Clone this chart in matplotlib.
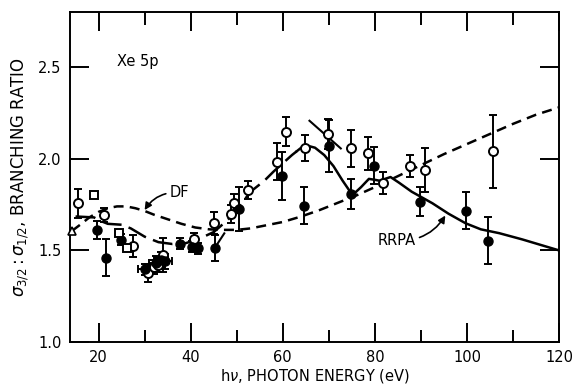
import numpy as np
import matplotlib
matplotlib.use("Agg")
import matplotlib.pyplot as plt

# open circles (energy, ratio, error)
open_x = [15.6, 21.2, 27.4, 30.8, 32.0, 33.0, 34.0, 40.7, 45.1, 48.7, 49.5, 52.5,
          58.8, 60.8, 64.8, 69.8, 74.8, 78.4, 81.8, 87.7, 90.9, 105.7]
open_y = [1.757, 1.693, 1.524, 1.376, 1.41, 1.42, 1.475, 1.564, 1.648, 1.70, 1.757, 1.83,
          1.984, 2.147, 2.06, 2.134, 2.056, 2.03, 1.87, 1.96, 1.94, 2.04]
open_err = [0.08, 0.04, 0.06, 0.05, 0.04, 0.04, 0.09, 0.03, 0.06, 0.05, 0.05, 0.05,
            0.1, 0.08, 0.07, 0.08, 0.1, 0.09, 0.06, 0.06, 0.12, 0.2]

# filled circles
fill_x = [19.6, 21.6, 24.8, 37.7, 40.3, 41.5, 45.3, 50.4, 59.8, 64.6, 70.0, 74.8,
          79.8, 89.8, 99.8, 104.5]
fill_y = [1.612, 1.461, 1.557, 1.535, 1.52, 1.512, 1.512, 1.726, 1.907, 1.744, 2.07, 1.808,
          1.962, 1.766, 1.717, 1.554]
fill_err = [0.05, 0.1, 0.03, 0.03, 0.03, 0.03, 0.07, 0.12, 0.13, 0.1, 0.14, 0.08,
            0.1, 0.08, 0.1, 0.13]

# filled circles with horizontal bars (30-35 eV cluster)
clus_x = [30.0, 32.5, 33.5, 34.5]
clus_y = [1.397, 1.43, 1.45, 1.44]
clus_xerr = [1.5, 1.5, 1.5, 1.5]
clus_yerr = [0.03, 0.04, 0.04, 0.04]

# open squares
sq_x = [19.0, 24.4, 26.1]
sq_y = [1.80, 1.595, 1.515]

# open triangle
tri_x = [14.2]
tri_y = [1.606]

# DF calculation
df_x = [14.2, 16, 18, 20, 22, 24, 26, 28, 30, 32, 35, 38, 41, 44, 47, 50, 53, 56, 60, 64,
        68, 72, 76, 80, 85, 90, 95, 100, 105, 110, 115, 120]
df_y = [1.606, 1.64, 1.68, 1.71, 1.73, 1.74, 1.74, 1.73, 1.715, 1.695, 1.67, 1.645, 1.625,
        1.615, 1.612, 1.612, 1.62, 1.635, 1.655, 1.685, 1.72, 1.76, 1.80, 1.845, 1.905,
        1.965, 2.025, 2.08, 2.135, 2.19, 2.24, 2.28]

# RRPA, low energy part (long dash)
rl_x = [15, 19, 20.5, 22, 25, 27, 30, 33, 36, 39, 42, 45, 48, 50, 53, 56, 58, 60, 62, 63]
rl_y = [1.685, 1.68, 1.66, 1.645, 1.64, 1.62, 1.575, 1.545, 1.535, 1.54, 1.565, 1.60,
        1.665, 1.72, 1.82, 1.88, 1.93, 1.975, 2.02, 2.04]

# RRPA, high energy part (solid)
rh_x = [63, 64, 65.5, 67, 69, 71, 73, 74.5, 75.5, 77, 78.7, 80, 81, 83.4, 85.2, 88,
        92.5, 96, 99.7, 103, 107, 112, 116, 120]
rh_y = [2.04, 2.06, 2.07, 2.06, 2.02, 1.96, 1.88, 1.825, 1.81, 1.845, 1.89, 1.885, 1.88,
        1.90, 1.87, 1.82, 1.757, 1.70, 1.648, 1.615, 1.594, 1.56, 1.53, 1.50]

# short extra pieces
seg1_x = [65.8, 72.6]
seg1_y = [2.207, 2.056]
seg2_x = [45.5, 47.3]
seg2_y = [1.524, 1.593]

plt.rcParams['font.family'] = ['DejaVu Sans']
fig = plt.figure(figsize=(5.74, 3.87), dpi=100)
ax = fig.add_axes([0.122, 0.116, 0.852, 0.853])

lw = 1.8
ax.plot(df_x, df_y, color='black', lw=lw, dashes=(4, 2.5))
ax.plot(rl_x, rl_y, color='black', lw=lw, dashes=(8, 3))
ax.plot(rh_x, rh_y, color='black', lw=lw)
ax.plot(seg1_x, seg1_y, color='black', lw=1.5)
ax.plot(seg2_x, seg2_y, color='black', lw=1.5)

eb = dict(ecolor='black', elinewidth=1.4, capsize=3, capthick=1.4, ls='none')
ax.errorbar(open_x, open_y, yerr=open_err, marker='o', ms=6.5, mfc='white',
            mec='black', mew=1.4, zorder=4, **eb)
ax.errorbar(fill_x, fill_y, yerr=fill_err, marker='o', ms=6.5, mfc='black',
            mec='black', zorder=4, **eb)
ax.errorbar(clus_x, clus_y, xerr=clus_xerr, yerr=clus_yerr, marker='o', ms=6.5,
            mfc='black', mec='black', zorder=4, **eb)
ax.plot(sq_x, sq_y, ls='none', marker='s', ms=5.5, mfc='white', mec='black', mew=1.4, zorder=5)
ax.plot(tri_x, tri_y, ls='none', marker='^', ms=6, mfc='white', mec='black', mew=1.2,
        zorder=5, clip_on=False)

ax.set_xlim(13.8, 120)
ax.set_ylim(1.0, 2.8)
ax.set_xticks([20, 40, 60, 80, 100, 120])
ax.set_xticks([30, 50, 70, 90, 110], minor=True)
ax.set_yticks([1.0, 1.5, 2.0, 2.5])
ax.set_yticklabels(['1.0', '1.5', '2.0', '2.5'])
ax.tick_params(which='both', direction='in', top=True, right=True, width=1.4,
               labelsize=10.5, pad=6)
ax.tick_params(which='major', length=14)
ax.tick_params(which='minor', length=9)
for s in ax.spines.values():
    s.set_linewidth(1.4)

ax.set_xlabel(r'h$\nu$, PHOTON ENERGY (eV)', fontsize=10.5, labelpad=1)
ax.set_ylabel(r'$\sigma_{3/2}:\sigma_{1/2}$, BRANCHING RATIO', fontsize=12, labelpad=5)

ax.text(24.0, 2.53, 'Xe 5p', fontsize=10.5, va='center', ha='left')
ax.annotate('DF', xy=(30.0, 1.72), xytext=(35.5, 1.815), fontsize=10.5,
            va='center', ha='left',
            arrowprops=dict(arrowstyle='-|>', color='black', lw=1.2,
                            connectionstyle='arc3,rad=0.3', shrinkA=1, shrinkB=0))
ax.annotate('RRPA', xy=(95.3, 1.69), xytext=(88.8, 1.555), fontsize=10.5,
            va='center', ha='right',
            arrowprops=dict(arrowstyle='-|>', color='black', lw=1.2,
                            connectionstyle='arc3,rad=0.3', shrinkA=1, shrinkB=0))

fig.savefig('out.png', dpi=100)
